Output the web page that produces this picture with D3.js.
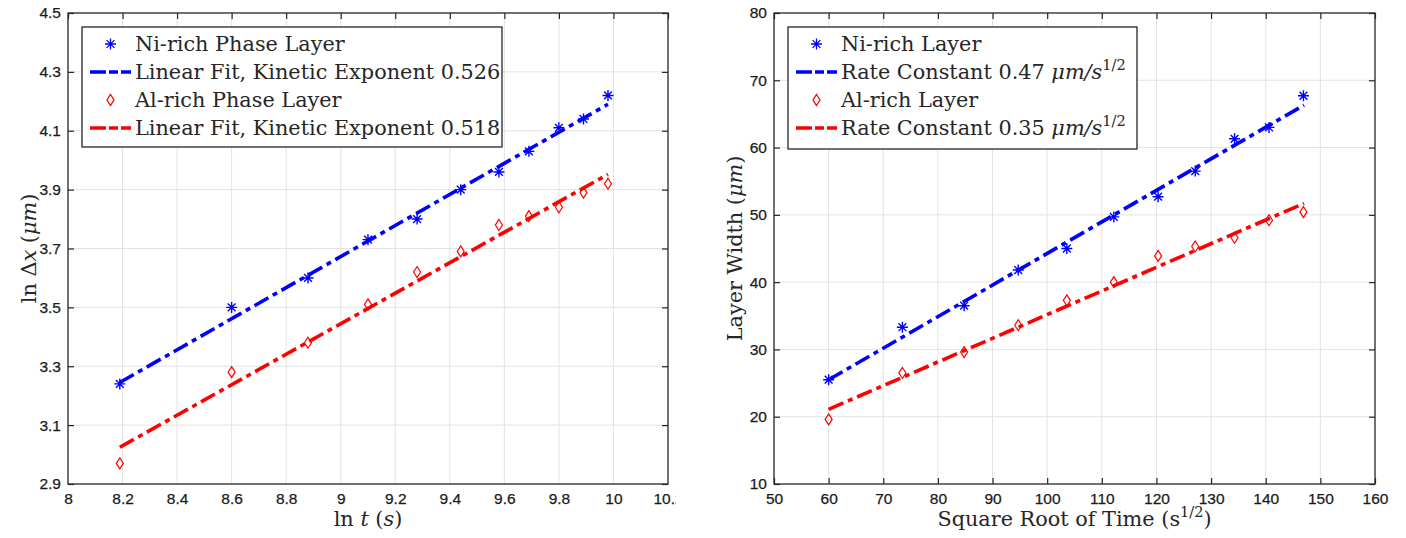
<!DOCTYPE html>
<html>
<head>
<meta charset="utf-8">
<script src="https://cdn.jsdelivr.net/npm/d3@7"></script>
<style>
    body { margin: 0; background: #fff; }
    .tick text { font-family: "Liberation Sans", Arial, sans-serif; font-size: 15.5px; fill: #1a1a1a; stroke: #1a1a1a; stroke-width: 0.25px; }
    .serif { font-family: "DejaVu Serif", "Liberation Serif", serif; fill: #262626; }
</style>
</head>
<body>
<div id="chartDiv"></div>
<script>
// left panel: ln of layer width vs ln of time
const lnTime = [8.19, 8.60, 8.88, 9.10, 9.28, 9.44, 9.58, 9.69, 9.80, 9.89, 9.98];
const lnNiWidth = [3.24, 3.50, 3.60, 3.73, 3.80, 3.90, 3.96, 4.03, 4.11, 4.14, 4.22];
const lnAlWidth = [2.97, 3.28, 3.38, 3.51, 3.62, 3.69, 3.78, 3.81, 3.84, 3.89, 3.92];
const lnNiFit = [[8.19, 3.245], [9.98, 4.19]];
const lnAlFit = [[8.19, 3.025], [9.98, 3.952]];
const lnTimeTicks = [8, 8.2, 8.4, 8.6, 8.8, 9, 9.2, 9.4, 9.6, 9.8, 10, 10.2];
const lnWidthTicks = [2.9, 3.1, 3.3, 3.5, 3.7, 3.9, 4.1, 4.3, 4.5];

// right panel: layer width vs square root of time
const sqrtTime = [60.0, 73.5, 84.8, 94.7, 103.6, 112.2, 120.3, 127.1, 134.3, 140.6, 146.9];
const niWidth = [25.5, 33.3, 36.5, 41.8, 45.0, 49.7, 52.7, 56.5, 61.3, 63.0, 67.7];
const alWidth = [19.6, 26.5, 29.6, 33.6, 37.3, 40.0, 43.9, 45.3, 46.6, 49.2, 50.4];
const niFit = [[60, 25.5], [147, 66.3]];
const alFit = [[60, 21.1], [147, 51.7]];
const sqrtTimeTicks = [50, 60, 70, 80, 90, 100, 110, 120, 130, 140, 150, 160];
const widthTicks = [10, 20, 30, 40, 50, 60, 70, 80];

const leftLegend = [
    [{t: 'Ni-rich Phase Layer'}],
    [{t: 'Linear Fit, Kinetic Exponent 0.526'}],
    [{t: 'Al-rich Phase Layer'}],
    [{t: 'Linear Fit, Kinetic Exponent 0.518'}]
];
const rightLegend = [
    [{t: 'Ni-rich Layer'}],
    [{t: 'Rate Constant 0.47 '}, {t: 'μm/s', i: true}, {t: '1/2', sup: true}],
    [{t: 'Al-rich Layer'}],
    [{t: 'Rate Constant 0.35 '}, {t: 'μm/s', i: true}, {t: '1/2', sup: true}]
];

const BLUE = '#0000ff', RED = '#ff0000', INK = '#262626';
const FS = 20.8;

let svg = d3.select('#chartDiv').append('svg')
    .attr('width', 1406)
    .attr('height', 538);

// write a run of text pieces (italic / superscript) into a text element
function richText(sel, pieces, size) {
    let shifted = false;
    pieces.forEach(p => {
        let ts = sel.append('tspan').text(p.t);
        if (p.i) ts.style('font-style', 'italic');
        if (p.sup) {
            ts.attr('dy', -size * 0.42).style('font-size', (size * 0.7) + 'px');
            shifted = true;
        } else if (shifted) {
            ts.attr('dy', size * 0.42);
            shifted = false;
        }
    });
}

const asterisk = 'M0,-5.5V5.5M-5.5,0H5.5M-3.9,-3.9L3.9,3.9M-3.9,3.9L3.9,-3.9';
const diamond = 'M0,-5.5L3.5,0L0,5.5L-3.5,0Z';

function drawPanel(p) {
    let g = svg.append('g');

    let x = d3.scaleLinear().domain(p.xDomain).range([p.left, p.right]);
    let y = d3.scaleLinear().domain(p.yDomain).range([p.bottom, p.top]);

    // grid
    g.append('g').selectAll('line.vgrid')
        .data(p.xTicks.slice(1, -1))
        .join('line')
        .attr('x1', d => x(d)).attr('x2', d => x(d))
        .attr('y1', p.top).attr('y2', p.bottom)
        .attr('stroke', '#e3e3e3').attr('stroke-width', 1);
    g.append('g').selectAll('line.hgrid')
        .data(p.yTicks.slice(1, -1))
        .join('line')
        .attr('y1', d => y(d)).attr('y2', d => y(d))
        .attr('x1', p.left).attr('x2', p.right)
        .attr('stroke', '#e3e3e3').attr('stroke-width', 1);

    // axes, ticks pointing inward on all four sides
    let bottomAxis = g.append('g')
        .attr('transform', `translate(0,${p.bottom})`)
        .call(d3.axisBottom(x).tickValues(p.xTicks).tickSizeInner(-6).tickSizeOuter(0).tickPadding(9)
            .tickFormat(d3.format('')));
    if (p.clipRight) {
        svg.append('clipPath').attr('id', p.id + 'clip')
            .append('rect').attr('x', 0).attr('y', 0).attr('width', p.clipRight).attr('height', 538);
        bottomAxis.attr('clip-path', `url(#${p.id}clip)`);
    }
    g.append('g')
        .attr('transform', `translate(${p.left},0)`)
        .call(d3.axisLeft(y).tickValues(p.yTicks).tickSizeInner(-6).tickSizeOuter(0).tickPadding(7)
            .tickFormat(d3.format('')));
    g.append('g')
        .attr('transform', `translate(0,${p.top})`)
        .call(d3.axisTop(x).tickValues(p.xTicks).tickSizeInner(-6).tickSizeOuter(0).tickFormat(''));
    g.append('g')
        .attr('transform', `translate(${p.right},0)`)
        .call(d3.axisRight(y).tickValues(p.yTicks).tickSizeInner(-6).tickSizeOuter(0).tickFormat(''));
    g.selectAll('.domain').remove();
    g.selectAll('.tick line').attr('stroke', INK).attr('stroke-width', 1.2);

    g.append('rect')
        .attr('x', p.left).attr('y', p.top)
        .attr('width', p.right - p.left).attr('height', p.bottom - p.top)
        .attr('fill', 'none').attr('stroke', INK).attr('stroke-width', 1.3);

    // data markers
    let series = [
        {ys: p.niY, color: BLUE, shape: asterisk, w: 1.4},
        {ys: p.alY, color: RED, shape: diamond, w: 1.2}
    ];
    series.forEach(s => {
        g.append('g').selectAll('path')
            .data(p.xs.map((v, i) => [v, s.ys[i]]))
            .join('path')
            .attr('transform', d => `translate(${x(d[0])},${y(d[1])})`)
            .attr('d', s.shape)
            .attr('fill', 'none')
            .attr('stroke', s.color)
            .attr('stroke-width', s.w);
    });

    // fitted lines (dash-dot)
    let line = d3.line().x(d => x(d[0])).y(d => y(d[1]));
    [[p.niFit, BLUE], [p.alFit, RED]].forEach(([f, c]) => {
        g.append('path')
            .attr('d', line(f))
            .attr('fill', 'none')
            .attr('stroke', c)
            .attr('stroke-width', 3.6)
            .attr('stroke-dasharray', '16,5,5,5');
    });

    // legend
    let lg = g.append('g');
    lg.append('rect')
        .attr('x', p.legend.x).attr('y', p.legend.y)
        .attr('width', p.legend.w).attr('height', p.legend.h)
        .attr('fill', '#fff').attr('stroke', INK).attr('stroke-width', 1.3);
    let rowY = [p.legend.y + 17, p.legend.y + 45, p.legend.y + 73, p.legend.y + 101];
    let lx = p.legend.x + 8, rx = p.legend.x + 49;
    let kinds = [[asterisk, BLUE], ['line', BLUE], [diamond, RED], ['line', RED]];
    kinds.forEach(([k, c], i) => {
        if (k === 'line') {
            lg.append('line')
                .attr('x1', lx).attr('x2', rx)
                .attr('y1', rowY[i]).attr('y2', rowY[i])
                .attr('stroke', c).attr('stroke-width', 3.6)
                .attr('stroke-dasharray', '16,3,9,3');
        } else {
            lg.append('path')
                .attr('transform', `translate(${(lx + rx) / 2},${rowY[i]})`)
                .attr('d', k)
                .attr('fill', 'none').attr('stroke', c)
                .attr('stroke-width', 1.3);
        }
        let t = lg.append('text')
            .attr('class', 'serif')
            .attr('x', rx + 4)
            .attr('y', rowY[i] + 7)
            .style('font-size', FS + 'px');
        richText(t, p.legendText[i], FS);
    });

    // axis titles
    let xt = g.append('text')
        .attr('class', 'serif')
        .attr('x', (p.left + p.right) / 2)
        .attr('y', 526)
        .attr('text-anchor', 'middle')
        .style('font-size', FS + 'px');
    richText(xt, p.xTitle, FS);

    let yt = g.append('text')
        .attr('class', 'serif')
        .attr('transform', `translate(${p.left - 32},${(p.top + p.bottom) / 2}) rotate(-90)`)
        .attr('text-anchor', 'middle')
        .style('font-size', FS + 'px');
    richText(yt, p.yTitle, FS);
}

drawPanel({
    id: 'left',
    left: 68, right: 668, top: 13, bottom: 484,
    xDomain: [8, 10.2], yDomain: [2.9, 4.5],
    xTicks: lnTimeTicks, yTicks: lnWidthTicks,
    xs: lnTime, niY: lnNiWidth, alY: lnAlWidth,
    niFit: lnNiFit, alFit: lnAlFit,
    clipRight: 676,
    legend: {x: 82, y: 27, w: 420, h: 120},
    legendText: leftLegend,
    xTitle: [{t: 'ln '}, {t: 't', i: true}, {t: ' ('}, {t: 's', i: true}, {t: ')'}],
    yTitle: [{t: 'ln Δ'}, {t: 'x', i: true}, {t: ' ('}, {t: 'μm', i: true}, {t: ')'}]
});

drawPanel({
    id: 'right',
    left: 774, right: 1375, top: 13, bottom: 484,
    xDomain: [50, 160], yDomain: [10, 80],
    xTicks: sqrtTimeTicks, yTicks: widthTicks,
    xs: sqrtTime, niY: niWidth, alY: alWidth,
    niFit: niFit, alFit: alFit,
    legend: {x: 788, y: 27, w: 349, h: 122},
    legendText: rightLegend,
    xTitle: [{t: 'Square Root of Time (s'}, {t: '1/2', sup: true}, {t: ')'}],
    yTitle: [{t: 'Layer Width ('}, {t: 'μm', i: true}, {t: ')'}]
});
</script>
</body>
</html>
